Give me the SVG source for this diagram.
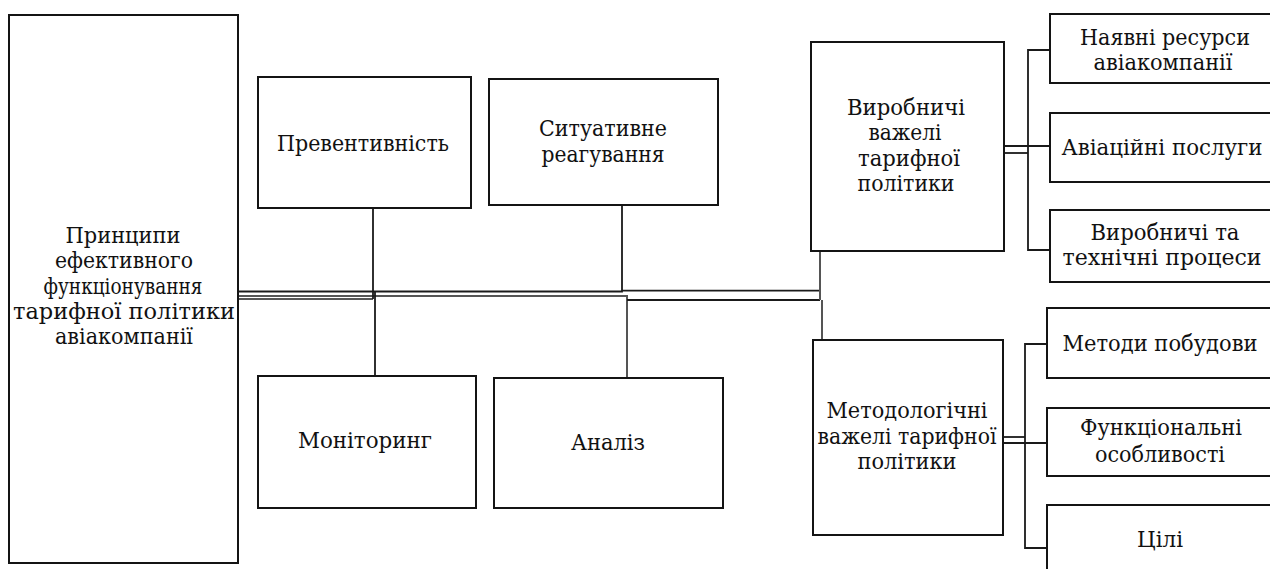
<svg xmlns="http://www.w3.org/2000/svg" width="1270" height="569" viewBox="0 0 1270 569">
  <style>
    .box { fill: #ffffff; stroke: #141414; stroke-width: 2; }
    .ln { fill: none; stroke: #1a1a1a; stroke-width: 1.8; }
    .lg { fill: none; stroke: #555555; stroke-width: 2; }
    text { font-family: "DejaVu Serif", "Liberation Serif", serif; font-size: 22px; fill: #111111; text-anchor: middle; }
  </style>
  <rect width="1270" height="569" fill="#ffffff"/>

  <!-- connectors -->
  <g id="connectors">
    <!-- main trunk from the principles box -->
    <polyline class="ln" points="239,291.5 622,291.5 622,205"/>
    <polyline class="lg" points="239,296 627,296 627,378"/>
    <line class="lg" x1="239" y1="299" x2="373" y2="299"/>
    <line class="ln" x1="373" y1="208" x2="373" y2="299"/>
    <line class="ln" x1="375" y1="292" x2="375" y2="376"/>
    <line class="ln" x1="622" y1="290.7" x2="820" y2="290.7"/>
    <line class="ln" x1="627" y1="300" x2="820" y2="300"/>
    <line class="lg" x1="820" y1="251" x2="820" y2="300"/>
    <line class="lg" x1="822" y1="300" x2="822" y2="340"/>

    <!-- production levers branch -->
    <line class="ln" x1="1004" y1="146" x2="1050" y2="146"/>
    <line class="ln" x1="1004" y1="153" x2="1028" y2="153"/>
    <polyline class="ln" points="1050,50 1028,50 1028,250 1050,250"/>

    <!-- methodological levers branch -->
    <line class="ln" x1="1003" y1="437" x2="1025" y2="437"/>
    <line class="ln" x1="1003" y1="443" x2="1047" y2="443"/>
    <polyline class="ln" points="1047,344 1025,344 1025,548 1047,548"/>
  </g>

  <g id="principles">
    <rect class="box" x="9" y="15" width="229" height="548"/>
    <text x="123" y="243" textLength="115" lengthAdjust="spacingAndGlyphs">Принципи</text>
    <text x="124" y="268" textLength="138" lengthAdjust="spacingAndGlyphs">ефективного</text>
    <text x="123" y="294" textLength="159" lengthAdjust="spacingAndGlyphs">функціонування</text>
    <text x="124" y="319" textLength="222" lengthAdjust="spacingAndGlyphs">тарифної політики</text>
    <text x="124" y="344" textLength="138" lengthAdjust="spacingAndGlyphs">авіакомпанії</text>
  </g>

  <g id="prevention">
    <rect class="box" x="258" y="77" width="213" height="131"/>
    <text x="363" y="151" textLength="172" lengthAdjust="spacingAndGlyphs">Превентивність</text>
  </g>

  <g id="situational">
    <rect class="box" x="489" y="79" width="229" height="126"/>
    <text x="603" y="136" textLength="128" lengthAdjust="spacingAndGlyphs">Ситуативне</text>
    <text x="603" y="162" textLength="123" lengthAdjust="spacingAndGlyphs">реагування</text>
  </g>

  <g id="monitoring">
    <rect class="box" x="258" y="376" width="218" height="132"/>
    <text x="365" y="448" textLength="134" lengthAdjust="spacingAndGlyphs">Моніторинг</text>
  </g>

  <g id="analysis">
    <rect class="box" x="494" y="378" width="229" height="130"/>
    <text x="608" y="450" textLength="74" lengthAdjust="spacingAndGlyphs">Аналіз</text>
  </g>

  <g id="production-levers">
    <rect class="box" x="811" y="42" width="193" height="209"/>
    <text x="906" y="115" textLength="118" lengthAdjust="spacingAndGlyphs">Виробничі</text>
    <text x="905" y="140" textLength="73" lengthAdjust="spacingAndGlyphs">важелі</text>
    <text x="909" y="166" textLength="102" lengthAdjust="spacingAndGlyphs">тарифної</text>
    <text x="906" y="191" textLength="97" lengthAdjust="spacingAndGlyphs">політики</text>
  </g>

  <g id="methodological-levers">
    <rect class="box" x="813" y="340" width="190" height="195"/>
    <text x="907" y="418" textLength="161" lengthAdjust="spacingAndGlyphs">Методологічні</text>
    <text x="907" y="444" textLength="179" lengthAdjust="spacingAndGlyphs">важелі тарифної</text>
    <text x="907" y="469" textLength="99" lengthAdjust="spacingAndGlyphs">політики</text>
  </g>

  <g id="resources">
    <rect class="box" x="1050" y="14" width="230" height="69"/>
    <text x="1165" y="45" textLength="170" lengthAdjust="spacingAndGlyphs">Наявні ресурси</text>
    <text x="1163" y="70" textLength="139" lengthAdjust="spacingAndGlyphs">авіакомпанії</text>
  </g>

  <g id="services">
    <rect class="box" x="1050" y="113" width="230" height="69"/>
    <text x="1162" y="155" textLength="201" lengthAdjust="spacingAndGlyphs">Авіаційні послуги</text>
  </g>

  <g id="processes">
    <rect class="box" x="1050" y="210" width="230" height="72"/>
    <text x="1165" y="240" textLength="149" lengthAdjust="spacingAndGlyphs">Виробничі та</text>
    <text x="1162" y="265" textLength="199" lengthAdjust="spacingAndGlyphs">технічні процеси</text>
  </g>

  <g id="methods">
    <rect class="box" x="1047" y="308" width="233" height="70"/>
    <text x="1160" y="351" textLength="195" lengthAdjust="spacingAndGlyphs">Методи побудови</text>
  </g>

  <g id="features">
    <rect class="box" x="1047" y="408" width="233" height="68"/>
    <text x="1161" y="435" textLength="162" lengthAdjust="spacingAndGlyphs">Функціональні</text>
    <text x="1160" y="462" textLength="130" lengthAdjust="spacingAndGlyphs">особливості</text>
  </g>

  <g id="goals">
    <rect class="box" x="1047" y="505" width="233" height="80"/>
    <text x="1160" y="547" textLength="46" lengthAdjust="spacingAndGlyphs">Цілі</text>
  </g>
</svg>
